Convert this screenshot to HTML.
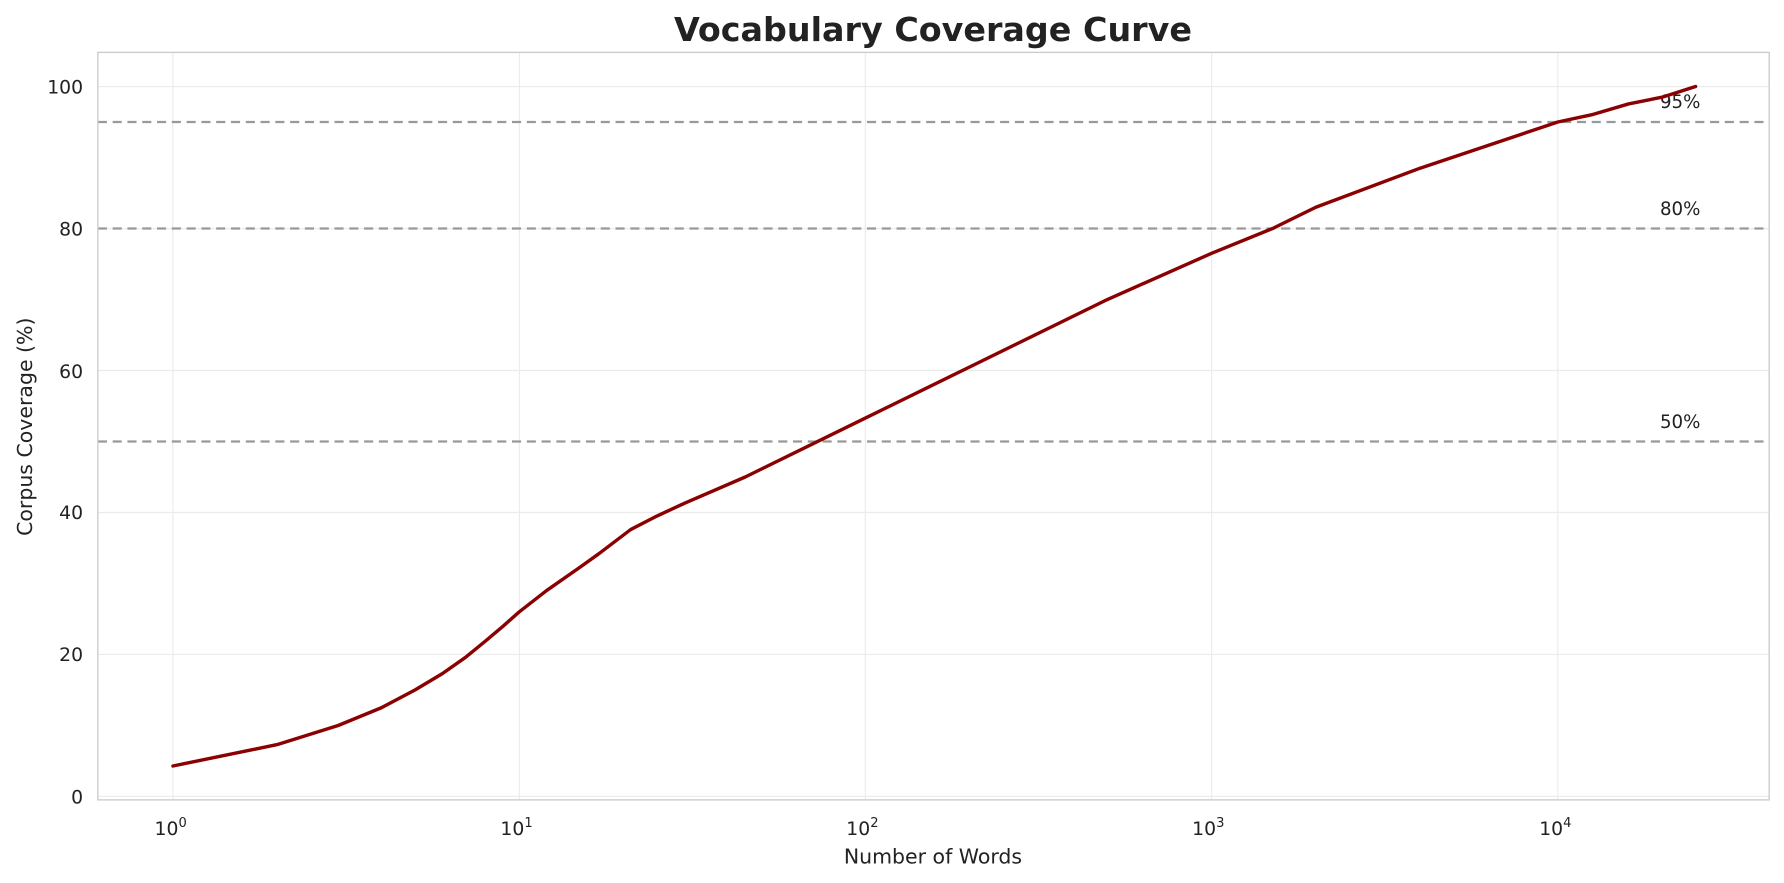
<!DOCTYPE html>
<html><head><meta charset="utf-8"><style>
html,body{margin:0;padding:0;background:#fff;}
svg{display:block;font-family:"DejaVu Sans","Liberation Sans",sans-serif;}
</style></head><body>
<svg width="1784" height="883" viewBox="0 0 1568 776" xmlns="http://www.w3.org/2000/svg">
<rect width="1568" height="776" fill="#fff"/>
<g stroke="#ebebeb" stroke-width="1">
<line x1="152" y1="46" x2="152" y2="703"/>
<line x1="456.5" y1="46" x2="456.5" y2="703"/>
<line x1="760.6" y1="46" x2="760.6" y2="703"/>
<line x1="1065" y1="46" x2="1065" y2="703"/>
<line x1="1369.2" y1="46" x2="1369.2" y2="703"/>
<line x1="86" y1="700" x2="1555" y2="700"/>
<line x1="86" y1="575.2" x2="1555" y2="575.2"/>
<line x1="86" y1="450.4" x2="1555" y2="450.4"/>
<line x1="86" y1="325.6" x2="1555" y2="325.6"/>
<line x1="86" y1="200.8" x2="1555" y2="200.8"/>
<line x1="86" y1="76" x2="1555" y2="76"/>
</g>
<g stroke="#999" stroke-width="2" stroke-dasharray="8,5">
<line x1="86" y1="107.2" x2="1555" y2="107.2"/>
<line x1="86" y1="200.8" x2="1555" y2="200.8"/>
<line x1="86" y1="388" x2="1555" y2="388"/>
</g>
<g font-size="16" fill="#222">
<text x="1459" y="95">95%</text>
<text x="1459" y="189">80%</text>
<text x="1459" y="376">50%</text>
</g>
<polyline fill="none" stroke="#8b0000" stroke-width="3" stroke-linejoin="round" stroke-linecap="round" points="152,673.2 243.6,654.4 297.2,637.6 335.2,622 364.7,606.4 388.8,592 409.2,577.7 426.8,563.3 442.3,550.2 456.3,537.8 480.4,519 509.9,498.4 526.4,486.6 554.3,465.4 577.4,453.5 601.5,442.3 655,419.2 760.6,367.4 852.2,322.5 973.3,263.2 1064.9,222.6 1118.5,200.8 1156.5,182.1 1248.1,147.8 1369.2,107.2 1398.7,100.9 1431.3,91.3 1460.8,85.4 1490.3,76"/>
<rect x="86" y="46" width="1469" height="657" fill="none" stroke="#ccc" stroke-width="1.2"/>
<g font-size="16.5" fill="#222" text-anchor="end">
<text x="73" y="706">0</text>
<text x="73" y="581">20</text>
<text x="73" y="456">40</text>
<text x="73" y="332">60</text>
<text x="73" y="207">80</text>
<text x="73" y="82">100</text>
</g>
<g font-size="16.5" fill="#222" text-anchor="middle">
<text x="150" y="734">10<tspan font-size="11.5" dy="-7">0</tspan></text>
<text x="454" y="734">10<tspan font-size="11.5" dy="-7">1</tspan></text>
<text x="758" y="734">10<tspan font-size="11.5" dy="-7">2</tspan></text>
<text x="1062" y="734">10<tspan font-size="11.5" dy="-7">3</tspan></text>
<text x="1367" y="734">10<tspan font-size="11.5" dy="-7">4</tspan></text>
</g>
<text x="820" y="759" font-size="18" fill="#222" text-anchor="middle">Number of Words</text>
<text transform="translate(28,375) rotate(-90)" font-size="18" fill="#222" text-anchor="middle">Corpus Coverage (%)</text>
<text x="820" y="36" font-size="29.3" font-weight="bold" fill="#222" text-anchor="middle">Vocabulary Coverage Curve</text>
</svg>
</body></html>
